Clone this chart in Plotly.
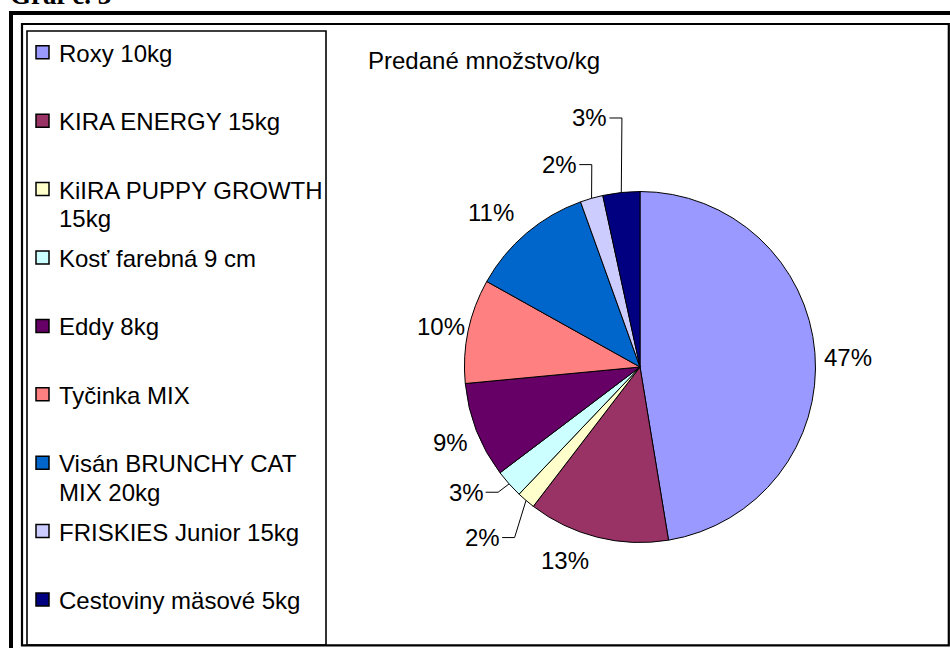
import math
import plotly.graph_objects as go

# ---------------- data ----------------
CATEGORIES = [
    "Roxy 10kg",
    "KIRA ENERGY 15kg",
    "KiIRA PUPPY GROWTH\n15kg",
    "Kosť farebná 9 cm",
    "Eddy 8kg",
    "Tyčinka MIX",
    "Visán BRUNCHY CAT\nMIX 20kg",
    "FRISKIES Junior 15kg",
    "Cestoviny mäsové 5kg",
]
SHARES = [47.4, 13.0, 1.7, 2.6, 8.8, 9.6, 11.4, 2.1, 3.4]
COLORS = ["#9999FF", "#993366", "#FFFFCC", "#CCFFFF", "#660066",
          "#FF8080", "#0066CC", "#CCCCFF", "#000080"]
TITLE = "Predané množstvo/kg"
CAPTION = "Graf č. 3"

# ---------------- style ----------------
# per-slice label placement: (angle nudge in degrees, distance from centre in px, leader line?)
LABEL_STYLE = [
    (1.95, 208.2, False),
    (7.2, 207.5, False),
    (2.2, 232.1, True),
    (6.0, 214.3, True),
    (-0.6, 203.7, False),
    (-0.5, 203.0, False),
    (-3.6, 215.0, False),
    (-5.6, 217.7, True),
    (-5.25, 254.0, True),
]

W, H = 950, 648
FONT = dict(family="Liberation Sans, Arial, sans-serif", size=24, color="black")


def px(x):
    return x / W


def py(y):
    return 1 - y / H


CX, CY, R = 640.0, 367.0, 175.5

fig = go.Figure(go.Pie(
    values=SHARES,
    labels=[c.replace("\n", " ") for c in CATEGORIES],
    sort=False,
    direction="clockwise",
    rotation=0,
    marker=dict(colors=COLORS, line=dict(color="black", width=1)),
    textinfo="none",
    showlegend=False,
    domain=dict(x=[px(CX - R), px(CX + R)], y=[py(CY + R), py(CY - R)]),
    hovertemplate="%{label}: %{percent}<extra></extra>",
))

annotations = []
shapes = []

# data labels
total = sum(SHARES)
cum = 0.0
for i, v in enumerate(SHARES):
    mid = (cum + v / 2) / total * 360
    cum += v
    dth, dist, leader = LABEL_STYLE[i]
    th = math.radians(mid + dth)
    lx = CX + dist * math.sin(th)
    ly = CY - dist * math.cos(th)
    annotations.append(dict(
        x=px(lx), y=py(ly), xref="paper", yref="paper",
        text=f"{round(v / total * 100)}%", showarrow=False,
        xanchor="center", yanchor="middle", font=FONT, borderpad=0,
    ))
    if leader:
        m = math.radians(mid)
        ex = CX + R * math.sin(m)
        ey = CY - R * math.cos(m)
        path = (f"M {px(lx + 19.5)} {py(ly)} L {px(lx + 32)} {py(ly)} "
                f"L {px(ex)} {py(ey)}")
        shapes.append(dict(type="path", path=path, xref="paper", yref="paper",
                           line=dict(color="black", width=1), layer="above"))

# legend (drawn manually to reproduce the spacing of the original)
LEG_TOP, LEG_STEP, LINE_GAP = 53.3, 68.4, 28.5
for i, (name, color) in enumerate(zip(CATEGORIES, COLORS)):
    yc = LEG_TOP + i * LEG_STEP
    shapes.append(dict(type="rect", xref="paper", yref="paper",
                       x0=px(36), x1=px(49), y0=py(yc - 7.5), y1=py(yc + 5.5),
                       fillcolor=color, line=dict(color="black", width=1.5)))
    for j, line in enumerate(name.split("\n")):
        annotations.append(dict(
            x=px(57.5), y=py(yc + j * LINE_GAP), xref="paper", yref="paper",
            text=line, showarrow=False, xanchor="left", yanchor="middle",
            font=FONT, borderpad=0,
        ))

# chart title
annotations.append(dict(
    x=px(366.5), y=py(60.5), xref="paper", yref="paper", text=TITLE,
    showarrow=False, xanchor="left", yanchor="middle", font=FONT, borderpad=0,
))

# caption above the frame (cut off at the top, as in the original)
annotations.append(dict(
    x=px(9), y=py(10.8), xref="paper", yref="paper", text=f"<b>{CAPTION}</b>",
    showarrow=False, xanchor="left", yanchor="bottom", borderpad=0,
    font=dict(family="Liberation Serif, Times New Roman, serif", size=27, color="black"),
))

# frames
shapes += [
    dict(type="line", xref="paper", yref="paper", x0=px(9), x1=px(950),
         y0=py(13), y1=py(13), line=dict(color="black", width=4)),
    dict(type="line", xref="paper", yref="paper", x0=px(11), x1=px(11),
         y0=py(11), y1=py(648), line=dict(color="black", width=4)),
    dict(type="rect", xref="paper", yref="paper", x0=px(22), x1=px(948.8),
         y0=py(24), y1=py(645.3), line=dict(color="black", width=2.2)),
    dict(type="rect", xref="paper", yref="paper", x0=px(27), x1=px(326),
         y0=py(31), y1=py(645), line=dict(color="black", width=1.6)),
]

fig.update_layout(
    width=W, height=H,
    margin=dict(l=0, r=0, t=0, b=0),
    paper_bgcolor="white", plot_bgcolor="white",
    annotations=annotations, shapes=shapes,
    font=FONT,
)

fig.write_html("out.html")
